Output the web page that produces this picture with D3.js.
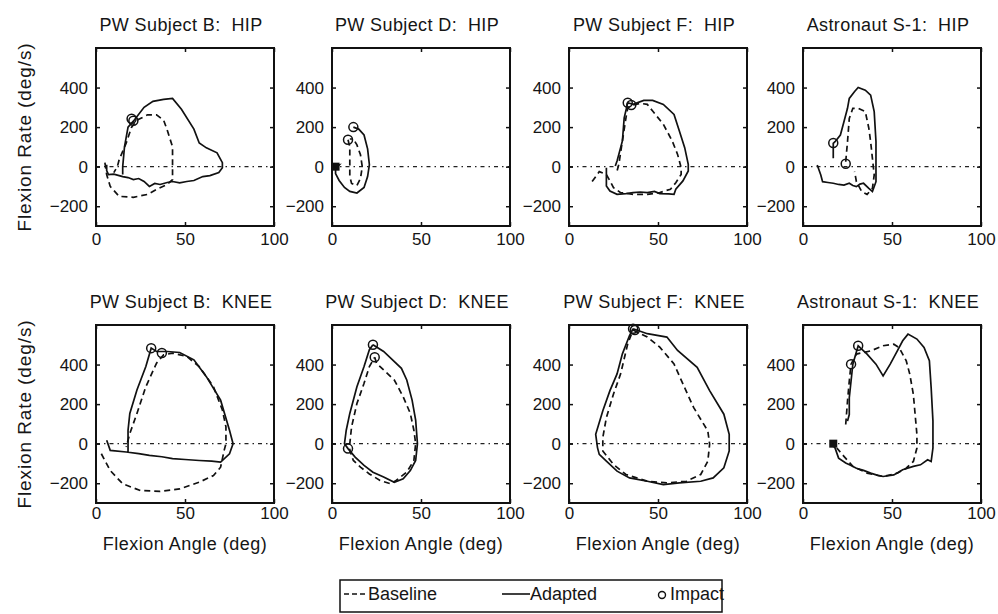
<!DOCTYPE html>
<html>
<head>
<meta charset="utf-8">
<script src="https://cdn.jsdelivr.net/npm/d3@7"></script>
<style>
  body { margin: 0; background: #fff; }
  text { font-family: "Liberation Sans", Arial, sans-serif; fill: #151515; white-space: pre; }
</style>
</head>
<body>
<div class="chart"></div>
<script>
// panel titles, row by row
var titles = [
  'PW Subject B:  HIP', 'PW Subject D:  HIP', 'PW Subject F:  HIP', 'Astronaut S-1:  HIP',
  'PW Subject B:  KNEE', 'PW Subject D:  KNEE', 'PW Subject F:  KNEE', 'Astronaut S-1:  KNEE'
];
var xTicks = [0, 50, 100];
var yTicks = [-200, 0, 200, 400];
var xDomain = [0, 100];
var yDomain = [-300, 600];

// [flexion angle (deg), flexion rate (deg/s)]
var hipB_base = [[5,20],[6,-40],[8,-100],[13,-150],[21,-155],[29,-140],[34,-115],[40,-90],[43,-65],[43,20],[43,100],[40,185],[38,235],[34,262],[29,262],[23,235],[20,200],[17,120],[13,35],[12,0],[10,-30]];
var hipB_adapt = [[6,10],[6,-20],[7,-40],[10,-38],[13,-45],[15,-50],[18,-55],[21,-65],[24,-60],[27,-75],[30,-100],[33,-85],[36,-90],[40,-80],[43,-75],[47,-82],[51,-75],[55,-70],[60,-50],[64,-45],[69,-30],[71,-5],[71,20],[68,70],[62,95],[58,120],[55,190],[48,290],[43,345],[38,340],[32,330],[27,300],[21,230],[18,200],[16,100],[15,0],[15,-40]];
var hipB_impact = [[21,232],[20,242]];

var hipD_base = [[9,136],[10,100],[10,50],[10,0],[10,-50],[11,-85],[14,-95],[16,-60],[17,0],[16,60],[14,110],[12,140],[10,140]];
var hipD_adapt = [[0,0],[4,8],[2,-10],[2,-35],[4,-70],[7,-105],[10,-125],[14,-133],[18,-105],[20,-50],[21,10],[20,90],[18,160],[15,190],[12,200]];
var hipD_impact = [[12,200],[9,136]];
var hipD_start = [[2,0]];

var hipF_base = [[13,-75],[17,-25],[21,-40],[23,-72],[25,-106],[29,-131],[36,-140],[44,-140],[51,-131],[57,-114],[60,-81],[63,-39],[63,-5],[61,62],[58,130],[53,214],[47,281],[44,315],[40,320],[35,310],[33,298],[32,247],[30,130],[28,12],[27,-22]];
var hipF_adapt = [[21,-5],[21,-98],[23,-123],[27,-140],[32,-136],[36,-131],[40,-128],[44,-131],[48,-125],[51,-136],[56,-138],[59,-140],[60,-114],[64,-72],[67,-22],[67,12],[65,96],[62,180],[59,264],[53,315],[47,335],[42,335],[36,315],[33,323],[31,247],[30,130],[27,29],[26,3]];
var hipF_impact = [[33,323],[35,312]];

var hipS_base = [[24,25],[25,126],[26,244],[28,295],[31,295],[35,278],[37,194],[38,126],[39,42],[40,-42],[39,-110],[36,-140],[33,-126],[30,-76],[29,-25]];
var hipS_adapt = [[8,8],[10,-42],[11,-76],[14,-80],[17,-84],[20,-90],[23,-93],[26,-84],[28,-95],[30,-101],[32,-88],[34,-84],[37,-110],[39,-126],[41,-76],[41,8],[41,126],[40,278],[38,362],[35,387],[31,400],[29,380],[26,345],[25,295],[23,227],[21,160],[18,126],[17,118],[17,93],[17,42]];
var hipS_impact = [[17,120],[24,15]];

var kneeB_base = [[3,-51],[8,-136],[15,-203],[25,-237],[36,-241],[47,-229],[58,-195],[66,-161],[70,-119],[72,-34],[73,0],[73,85],[71,170],[66,288],[58,390],[51,441],[43,458],[38,449],[34,407],[28,288],[23,153],[19,51],[17,-17]];
var kneeB_adapt = [[6,17],[8,-34],[17,-42],[24,-50],[30,-59],[37,-66],[43,-76],[50,-80],[58,-85],[65,-88],[70,-93],[75,-51],[77,0],[75,68],[70,220],[62,339],[55,424],[47,461],[40,466],[34,466],[31,483],[28,390],[23,271],[19,153],[18,68],[18,-42]];
var kneeB_impact = [[31,483],[37,458]];

var kneeD_base = [[24,437],[25,407],[29,373],[35,322],[40,237],[44,153],[46,68],[47,0],[46,-85],[42,-144],[36,-186],[33,-203],[27,-186],[21,-153],[16,-119],[12,-85],[10,-34],[10,0],[11,85],[14,203],[18,305],[21,390],[24,437]];
var kneeD_adapt = [[23,500],[29,466],[39,381],[42,322],[45,220],[47,119],[48,0],[47,-85],[44,-136],[40,-178],[35,-195],[29,-169],[23,-144],[18,-110],[13,-68],[9,-25],[7,0],[8,68],[10,153],[14,288],[18,390],[21,475],[23,500]];
var kneeD_impact = [[23,500],[24,437],[9,-25]];

var kneeF_base = [[36,575],[44,539],[51,488],[59,403],[64,302],[70,183],[78,64],[79,-3],[78,-88],[74,-156],[66,-190],[55,-198],[44,-190],[32,-156],[25,-105],[19,-37],[19,31],[21,132],[25,251],[29,353],[33,505],[36,575]];
var kneeF_adapt = [[36,581],[44,556],[55,539],[61,471],[72,386],[79,268],[87,149],[90,47],[90,-37],[87,-122],[81,-173],[74,-190],[62,-198],[53,-207],[44,-190],[34,-173],[27,-139],[21,-88],[17,-54],[16,-20],[15,47],[19,166],[23,268],[27,353],[30,454],[34,547],[36,581]];
var kneeF_impact = [[36,581],[37,575]];

var kneeS_base = [[24,97],[25,215],[26,317],[27,402],[30,453],[38,469],[45,495],[51,503],[54,486],[58,419],[60,351],[62,249],[63,147],[64,46],[64,-22],[62,-90],[58,-124],[53,-149],[45,-166],[36,-149],[28,-115],[23,-64],[19,-22]];
var kneeS_adapt = [[16,0],[18,-22],[20,-73],[24,-98],[27,-110],[30,-124],[34,-135],[38,-149],[42,-160],[45,-166],[51,-158],[56,-132],[62,-115],[66,-107],[70,-81],[72,-90],[73,-22],[73,114],[72,283],[71,419],[68,486],[64,529],[59,554],[56,520],[53,469],[49,402],[45,343],[41,402],[36,453],[31,495],[28,402],[27,317],[26,232],[26,147],[25,114]];
var kneeS_impact = [[31,495],[27,402]];
var kneeS_start = [[17,0]];

var baseSets = [hipB_base, hipD_base, hipF_base, hipS_base, kneeB_base, kneeD_base, kneeF_base, kneeS_base];
var adaptSets = [hipB_adapt, hipD_adapt, hipF_adapt, hipS_adapt, kneeB_adapt, kneeD_adapt, kneeF_adapt, kneeS_adapt];
var impactSets = [hipB_impact, hipD_impact, hipF_impact, hipS_impact, kneeB_impact, kneeD_impact, kneeF_impact, kneeS_impact];
var startSets = [[], hipD_start, [], [], [], [], [], kneeS_start];

var legendLabels = ['Baseline', 'Adapted', 'Impact'];

// layout
var W = 998, H = 614;
var colX = [96, 332, 569, 803];
var rowY = [48, 325];
var pw = 178, ph = 178;

var svg = d3.select('.chart')
  .append('svg')
  .attr('width', W)
  .attr('height', H);

var x = d3.scaleLinear().domain(xDomain).range([0, pw]);
var y = d3.scaleLinear().domain(yDomain).range([ph, 0]);

var line = d3.line()
  .x(d => x(d[0]))
  .y(d => y(d[1]));

titles.forEach(function(title, i) {
  var row = Math.floor(i / 4), col = i % 4;
  var g = svg.append('g')
    .attr('transform', `translate(${colX[col]}, ${rowY[row]})`);

  // zero line
  g.append('line')
    .attr('x1', x(0)).attr('x2', x(100))
    .attr('y1', y(0)).attr('y2', y(0))
    .style('stroke', '#222')
    .style('stroke-width', 1.4)
    .style('stroke-dasharray', '4,4,1.5,4');

  g.append('path')
    .datum(baseSets[i])
    .attr('d', line)
    .style('fill', 'none')
    .style('stroke', '#111')
    .style('stroke-width', 1.7)
    .style('stroke-dasharray', '6,4');

  g.append('path')
    .datum(adaptSets[i])
    .attr('d', line)
    .style('fill', 'none')
    .style('stroke', '#111')
    .style('stroke-width', 1.7);

  g.selectAll('.impact')
    .data(impactSets[i])
    .enter()
    .append('circle')
    .attr('class', 'impact')
    .attr('cx', d => x(d[0]))
    .attr('cy', d => y(d[1]))
    .attr('r', 4.5)
    .style('fill', 'none')
    .style('stroke', '#111')
    .style('stroke-width', 1.5);

  g.selectAll('.start')
    .data(startSets[i])
    .enter()
    .append('rect')
    .attr('class', 'start')
    .attr('x', d => x(d[0]) - 4)
    .attr('y', d => y(d[1]) - 4)
    .attr('width', 8)
    .attr('height', 8)
    .style('fill', '#111');

  // axes, matlab style: ticks inside on all four sides
  var bottom = d3.axisBottom(x).tickValues(xTicks).tickSize(-4).tickPadding(row === 0 ? 7 : 4);
  var top = d3.axisTop(x).tickValues(xTicks).tickSize(-4).tickFormat('');
  var left = d3.axisLeft(y).tickValues(yTicks).tickSize(-4).tickPadding(8);
  var right = d3.axisRight(y).tickValues(yTicks).tickSize(-4).tickFormat('');

  g.append('g').attr('transform', `translate(0, ${ph})`).call(bottom);
  g.append('g').call(top);
  g.append('g').call(left);
  g.append('g').attr('transform', `translate(${pw}, 0)`).call(right);

  g.selectAll('.domain').remove();
  g.selectAll('.tick line').style('stroke', '#111').style('stroke-width', 1.5);
  g.selectAll('.tick text')
    .style('font-size', '17px')
    .style('font-family', '"Liberation Sans", Arial, sans-serif')
    .style('fill', '#151515');

  g.append('rect')
    .attr('width', pw)
    .attr('height', ph)
    .style('fill', 'none')
    .style('stroke', '#111')
    .style('stroke-width', 2);

  g.append('text')
    .attr('x', pw / 2 - 4)
    .attr('y', -17)
    .style('text-anchor', 'middle')
    .style('font-size', '18px')
    .style('letter-spacing', '0.4px')
    .text(title);

  if (row === 1) {
    g.append('text')
      .attr('x', pw / 2)
      .attr('y', ph + 47)
      .style('text-anchor', 'middle')
      .style('font-size', '18px')
      .style('letter-spacing', '0.5px')
      .text('Flexion Angle (deg)');
  }
  if (col === 0) {
    g.append('text')
      .attr('transform', `translate(${31 - colX[0]}, ${ph / 2}) rotate(-90)`)
      .style('text-anchor', 'middle')
      .style('font-size', '19px')
      .style('letter-spacing', '0.9px')
      .text('Flexion Rate (deg/s)');
  }
});

// legend
var lg = svg.append('g').attr('transform', 'translate(340, 580)');
lg.append('rect')
  .attr('width', 382)
  .attr('height', 32)
  .style('fill', 'none')
  .style('stroke', '#111')
  .style('stroke-width', 1.5);

var legendItems = lg.selectAll('.item')
  .data(legendLabels)
  .enter()
  .append('g')
  .attr('class', 'item')
  .attr('transform', (d, i) => `translate(${[4, 162, 316][i]}, 0)`);

legendItems.append('text')
  .attr('x', (d, i) => [24, 28, 14][i])
  .attr('y', 20)
  .style('font-size', '18px')
  .text(d => d);

legendItems.filter((d, i) => i < 2)
  .append('line')
  .attr('x1', 0).attr('x2', (d, i) => i === 0 ? 22 : 28)
  .attr('y1', 14).attr('y2', 14)
  .style('stroke', '#111')
  .style('stroke-width', 1.6)
  .style('stroke-dasharray', (d, i) => i === 0 ? '5,3' : null);

legendItems.filter((d, i) => i === 2)
  .append('circle')
  .attr('cx', 6).attr('cy', 15).attr('r', 3.5)
  .style('fill', 'none')
  .style('stroke', '#111')
  .style('stroke-width', 1.4);
</script>
</body>
</html>
